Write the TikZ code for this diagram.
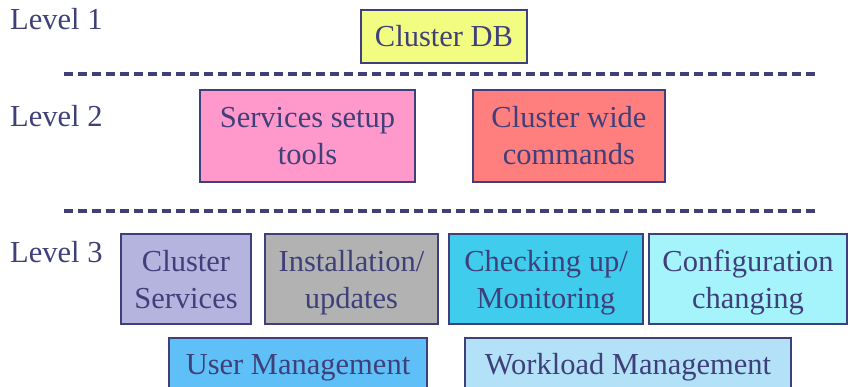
\documentclass[tikz,border=0pt]{standalone}
\usepackage{fontspec}
\setmainfont{Liberation Serif}
\newcommand\lnstrut{\rule[-8pt]{0pt}{37pt}}
\definecolor{ink}{HTML}{3F3F7A}
\definecolor{cdb}{HTML}{F2FC80}
\definecolor{sst}{HTML}{FF99CC}
\definecolor{cwc}{HTML}{FF7F7F}
\definecolor{csv}{HTML}{B4B4DE}
\definecolor{ins}{HTML}{B2B2B2}
\definecolor{chk}{HTML}{40CCEC}
\definecolor{cfg}{HTML}{A6F4FB}
\definecolor{usr}{HTML}{5FC0F8}
\definecolor{wlm}{HTML}{B3E2F8}
\begin{document}
\begin{tikzpicture}[x=1pt,y=-1pt,
  box/.style={draw=ink, line width=2pt, text=ink, align=center, anchor=north west,
    inner sep=0pt, font=\fontsize{30.5}{37}\selectfont},
  lowbox/.style={box, text height=36pt, text depth=24pt},
  lvl/.style={text=ink, anchor=base west, inner sep=0pt, font=\fontsize{30.5}{37}\selectfont},
  sep/.style={draw=ink, line width=3.2pt, dash pattern=on 9pt off 5pt}]
\useasboundingbox (0,0) rectangle (848,387);
\clip (0,0) rectangle (848,387);
\node[lvl] (l1) at (10,30) {Level 1};
\node[lvl] (l2) at (10,127) {Level 2};
\node[lvl] (l3) at (10,262) {Level 3};
\node[box, fill=cdb, minimum width=166pt, minimum height=53pt] (db) at (360,9) {\lnstrut Cluster DB};
\coordinate (d1a) at (64,74); \coordinate (d1b) at (815,74);
\draw[sep] (d1a) -- (d1b);
\node[box, fill=sst, minimum width=215pt, minimum height=92pt] (sst) at (199,89) {\lnstrut Services setup\\\lnstrut tools};
\node[box, fill=cwc, minimum width=192pt, minimum height=92pt] (cwc) at (472,89) {\lnstrut Cluster wide\\\lnstrut commands};
\coordinate (d2a) at (64,211); \coordinate (d2b) at (815,211);
\draw[sep] (d2a) -- (d2b);
\node[box, fill=csv, minimum width=130pt, minimum height=90pt] (csv) at (120,233) {\lnstrut Cluster\\\lnstrut Services};
\node[box, fill=ins, minimum width=173pt, minimum height=90pt] (ins) at (264,233) {\lnstrut Installation/\\\lnstrut updates};
\node[box, fill=chk, minimum width=194pt, minimum height=90pt] (chk) at (448,233) {\lnstrut Checking up/\\\lnstrut Monitoring};
\node[box, fill=cfg, minimum width=198pt, minimum height=90pt] (cfg) at (648,233) {\lnstrut Configuration\\\lnstrut changing};
\node[lowbox, fill=usr, minimum width=258pt] (usr) at (168,337) {User Management};
\node[lowbox, fill=wlm, minimum width=326pt] (wlm) at (464,337) {Workload Management};
\end{tikzpicture}
\end{document}
